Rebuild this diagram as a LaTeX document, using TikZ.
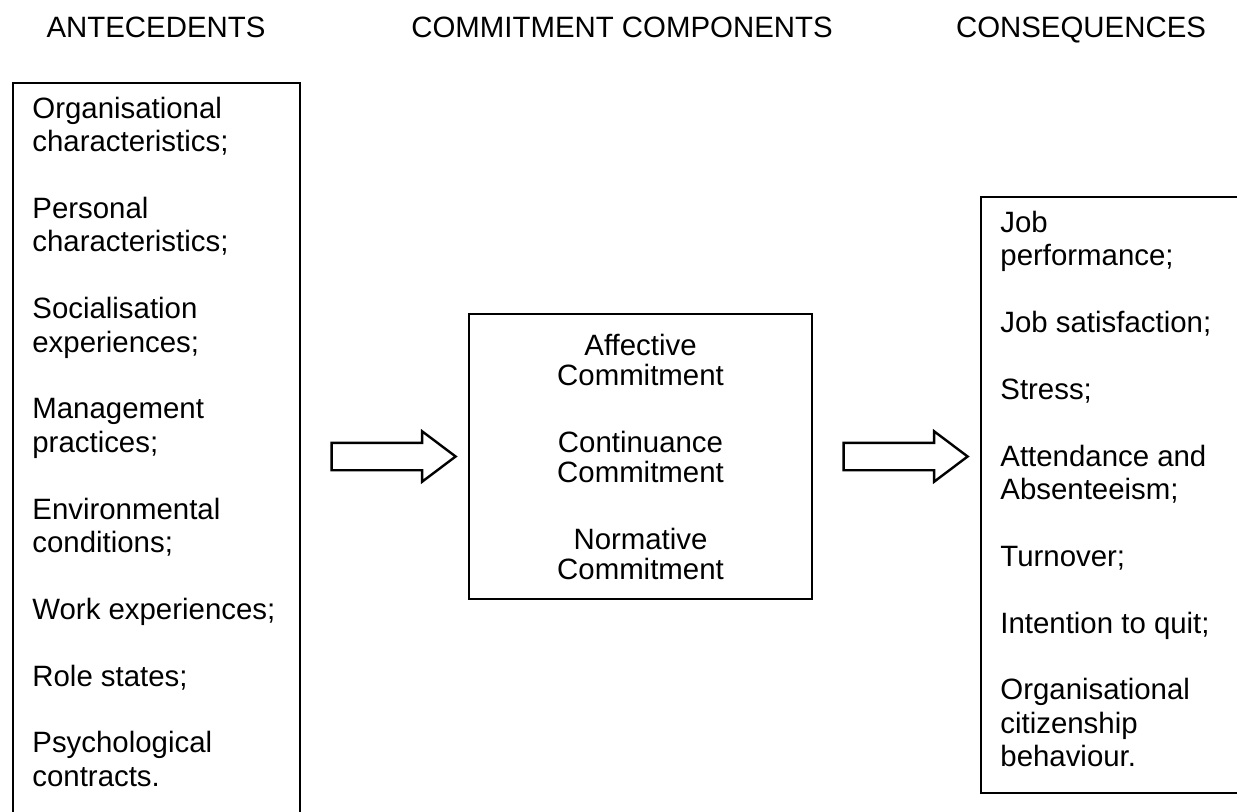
\documentclass[tikz,border=0pt]{standalone}
\usepackage{fontspec}
\setmainfont{Liberation Sans}
\usetikzlibrary{positioning,calc,shapes.arrows}

\begin{document}
\begin{tikzpicture}[x=0.5pt, y=0.5pt,
    panel/.style={rectangle, draw=black, line width=1pt, anchor=north west, inner sep=0pt},
    entries/.style={align=left, anchor=north west, inner sep=0pt, font=\fontsize{14.7}{16.7}\selectfont},
    components/.style={align=center, anchor=north, inner sep=0pt, font=\fontsize{14.7}{15}\selectfont},
    heading/.style={anchor=base, inner sep=0pt, font=\fontsize{14.7}{16.7}\selectfont},
    blockarrow/.style={single arrow, draw=black, line width=1.2pt, fill=white, inner sep=0pt, inner ysep=6.25pt,
        minimum height=62pt, minimum width=24pt, single arrow head extend=5.75pt, single arrow tip angle=74}]
    \fill[white] (0,0) rectangle (1237,811);
    \useasboundingbox (0,0) rectangle (1237,811);

    \node[heading] (anteh) at (156,773) {ANTECEDENTS};
    \node[heading] (comph) at (622,773) {COMMITMENT COMPONENTS};
    \node[heading] (consh) at (1081,773) {CONSEQUENCES};

    \node[panel, minimum width=143.5pt, minimum height=380pt] (antebox) at (12,729) {};
    \node[panel, minimum width=171.5pt, minimum height=142.5pt] (compbox) at (468,498) {};
    \node[panel, minimum width=150pt, minimum height=298pt] (consbox) at (980,615) {};

    \node[entries] (ante) at ([xshift=10pt, yshift=-7.3pt]antebox.north west)
        {Organisational\\characteristics;\\[16.7pt]Personal\\characteristics;\\[16.7pt]Socialisation\\experiences;\\[16.7pt]Management\\practices;\\[16.7pt]Environmental\\conditions;\\[16.7pt]Work experiences;\\[16.7pt]Role states;\\[16.7pt]Psychological\\contracts.};
    \node[components] (comp) at ([yshift=-10.3pt]compbox.north)
        {Affective\\Commitment\\[18.5pt]Continuance\\Commitment\\[18.5pt]Normative\\Commitment};
    \node[entries] (cons) at ([xshift=10pt, yshift=-7.3pt]consbox.north west)
        {Job\\performance;\\[16.7pt]Job satisfaction;\\[16.7pt]Stress;\\[16.7pt]Attendance and\\Absenteeism;\\[16.7pt]Turnover;\\[16.7pt]Intention to quit;\\[16.7pt]Organisational\\citizenship\\behaviour.};

    \node[blockarrow] (arrow1) at ($(antebox.east |- compbox.west)!0.5!(compbox.west)$) {};
    \node[blockarrow] (arrow2) at ($(compbox.east)!0.5!(consbox.west |- compbox.east)$) {};
\end{tikzpicture}
\end{document}
